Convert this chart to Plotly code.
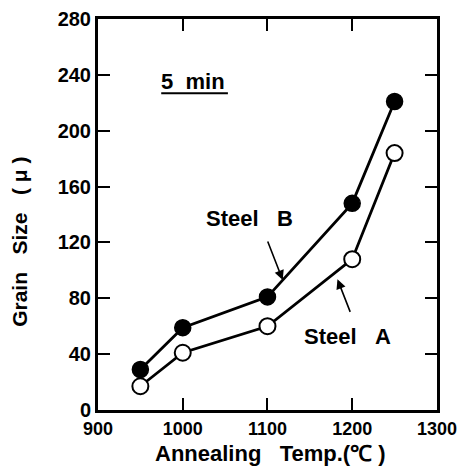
import plotly.graph_objects as go

temps = [950, 1000, 1100, 1200, 1250]
steel_a = [17, 41, 60, 108, 184]
steel_b = [29, 59, 81, 148, 221]
x_ticks = [900, 1000, 1100, 1200, 1300]
y_ticks = [0, 40, 80, 120, 160, 200, 240, 280]

FONT = "Liberation Sans, Arial, sans-serif"
NB = "\u00a0"

fig = go.Figure()
fig.add_trace(go.Scatter(x=temps, y=steel_b, mode="lines+markers",
                         line=dict(color="black", width=2.8),
                         marker=dict(symbol="circle", size=16, color="black",
                                     line=dict(color="black", width=1.5)),
                         showlegend=False))
fig.add_trace(go.Scatter(x=temps, y=steel_a, mode="lines+markers",
                         line=dict(color="black", width=2.8),
                         marker=dict(symbol="circle", size=16, color="white",
                                     line=dict(color="black", width=2)),
                         showlegend=False))

axis_common = dict(showgrid=False, zeroline=False, showline=True, linecolor="black",
                   linewidth=3, mirror="ticks", ticks="inside", ticklen=12, tickwidth=2,
                   tickcolor="black", automargin=False, ticklabeloverflow="allow")

fig.update_xaxes(range=[900, 1300.05], tickvals=x_ticks, ticktext=[str(v) for v in x_ticks],
                 tickfont=dict(family=FONT, size=18, color="black", weight="bold"),
                 **axis_common)
fig.update_yaxes(range=[0, 280.05], tickvals=y_ticks, ticktext=[str(v) for v in y_ticks],
                 tickfont=dict(family=FONT, size=20, color="black", weight="bold"),
                 **axis_common)

txt = dict(family=FONT, size=22, color="black", weight="bold")
annotations = [
    dict(x=1012.5, y=235, xref="x", yref="y", text="5" + NB + NB + "min", showarrow=False,
         font=txt),
    dict(x=1079, y=137.5, xref="x", yref="y", text="Steel" + NB + NB + NB + "B",
         showarrow=False, font=txt),
    dict(x=1194.5, y=53, xref="x", yref="y", text="Steel" + NB + NB + NB + "A",
         showarrow=False, font=txt),
    dict(x=1118, y=93.1, ax=1099.6, ay=121.7, xref="x", yref="y", axref="x", ayref="y",
         text="", showarrow=True, arrowhead=2, arrowsize=1.2, arrowwidth=1.6, arrowcolor="black"),
    dict(x=1182.6, y=93.6, ax=1198.3, ay=69.2, xref="x", yref="y", axref="x", ayref="y",
         text="", showarrow=True, arrowhead=2, arrowsize=1.2, arrowwidth=1.6, arrowcolor="black"),
    dict(xref="paper", yref="paper", x=0.51, y=0, yshift=-43, yanchor="middle",
         text="Annealing" + NB + NB + NB + "Temp.(℃" + NB + ")", showarrow=False, font=txt),
    dict(xref="paper", yref="paper", x=0, xshift=-78, y=0.43, xanchor="center",
         textangle=-90,
         text="Grain" + NB + NB + NB + "Size" + NB + NB + NB + "(" + NB + "μ" + NB + ")",
         showarrow=False, font=dict(family=FONT, size=21, color="black", weight="bold")),
]

fig.update_layout(
    width=458, height=468,
    margin=dict(l=98, r=21, t=19, b=58),
    plot_bgcolor="white", paper_bgcolor="white",
    annotations=annotations,
    shapes=[dict(type="line", xref="x", yref="y", x0=974.6, x1=1053.3, y0=226.8, y1=226.8,
                 line=dict(color="black", width=2))],
)

fig.write_html("out.html", config={"displayModeBar": False},
               post_script="document.body.style.margin='0';document.body.style.padding='0';")
